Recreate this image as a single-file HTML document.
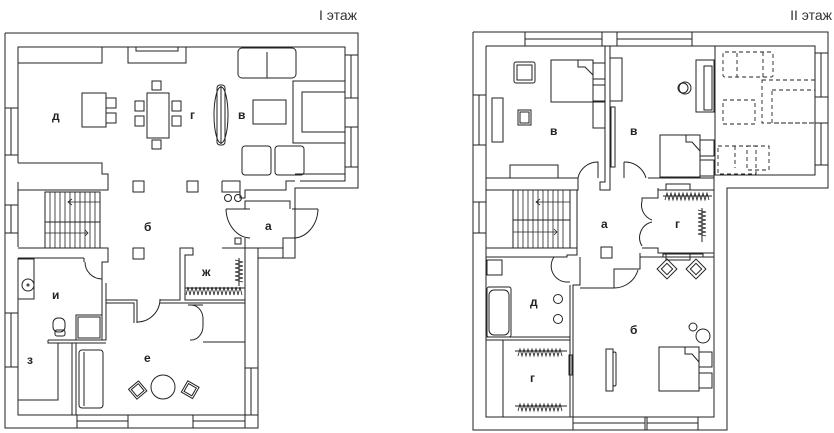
<!DOCTYPE html>
<html><head><meta charset="utf-8"><style>
html,body{margin:0;padding:0;background:#fff;}
svg{display:block;}
text{font-family:"Liberation Sans",sans-serif;}
.l{font-weight:bold;font-size:12px;fill:#222;font-family:"Liberation Sans Narrow","Liberation Sans",sans-serif;}
</style></head><body>
<svg width="834" height="433" viewBox="0 0 834 433" xmlns="http://www.w3.org/2000/svg">
<g fill="none" stroke="#222" stroke-width="1">
<!-- ================= FLOOR 1 ================= -->
<text x="357" y="20" text-anchor="end" font-size="14" fill="#333" stroke="none">I этаж</text>
<polyline points="5,33 358,33 358,188 295,188 295,258 258,258 258,428 5,428 5,33"/>
<polyline points="18,163 18,47 345,47 345,181 300,181"/>
<polyline points="18,182 18,247"/>
<polyline points="18,258 18,415 245,415 245,258"/>
<g><rect x="5" y="108" width="13" height="47"/><line x1="11" y1="108" x2="11" y2="155"/>
<rect x="5" y="205" width="13" height="28"/><line x1="11" y1="205" x2="11" y2="233"/>
<rect x="5" y="313" width="13" height="54"/><line x1="11" y1="313" x2="11" y2="367"/>
<rect x="345" y="55" width="13" height="43"/><line x1="351" y1="55" x2="351" y2="98"/>
<rect x="345" y="127" width="13" height="40"/><line x1="351" y1="127" x2="351" y2="167"/>
<rect x="77" y="415" width="51" height="13"/><line x1="77" y1="421" x2="128" y2="421"/>
<rect x="193" y="415" width="52" height="13"/><line x1="193" y1="421" x2="245" y2="421"/>
<rect x="245" y="368" width="13" height="47"/><line x1="251" y1="368" x2="251" y2="415"/></g>
<rect x="18" y="47" width="84" height="16"/>
<rect x="128" y="47" width="58" height="16"/><rect x="136" y="47" width="42" height="4"/>
<polyline points="18,163 102,163 102,174 108,174 108,190 18,190"/>
<polyline points="18,248 108,248 108,262 102,262 102,267"/>
<line x1="18" y1="258" x2="84" y2="258"/>
<rect x="45" y="192" width="55" height="30"/><rect x="45" y="222" width="55" height="26"/>
<g stroke-width="0.8">
<line x1="50" y1="192" x2="50" y2="222"/><line x1="55" y1="192" x2="55" y2="222"/><line x1="60" y1="192" x2="60" y2="222"/><line x1="65" y1="192" x2="65" y2="222"/><line x1="70" y1="192" x2="70" y2="222"/><line x1="75" y1="192" x2="75" y2="222"/><line x1="80" y1="192" x2="80" y2="222"/><line x1="85" y1="192" x2="85" y2="222"/><line x1="90" y1="192" x2="90" y2="222"/><line x1="95" y1="192" x2="95" y2="222"/>
<line x1="50" y1="222" x2="50" y2="248"/><line x1="55" y1="222" x2="55" y2="248"/><line x1="60" y1="222" x2="60" y2="248"/><line x1="65" y1="222" x2="65" y2="248"/><line x1="70" y1="222" x2="70" y2="248"/><line x1="75" y1="222" x2="75" y2="248"/><line x1="80" y1="222" x2="80" y2="248"/><line x1="85" y1="222" x2="85" y2="248"/><line x1="90" y1="222" x2="90" y2="248"/><line x1="95" y1="222" x2="95" y2="248"/>
<line x1="68" y1="202" x2="100" y2="202"/><polyline points="72,199 68,202 72,205"/>
<line x1="45" y1="233" x2="88" y2="233"/><polyline points="85,230 88,233 85,236"/>
</g>
<polyline points="84,258 84,262"/>
<polyline points="106,283 106,300"/>
<polyline points="102,267 102,340"/>
<path d="M85,262 A17,17 0 0 0 102,279"/>
<rect x="18" y="259" width="16" height="40"/>
<circle cx="28" cy="285" r="6"/><circle cx="28" cy="285" r="1"/>
<rect x="76" y="315" width="26" height="25"/><rect x="78" y="317" width="22" height="21"/>
<rect x="53" y="318" width="12" height="14" rx="5"/><rect x="55" y="330" width="10" height="6" rx="2"/>
<polyline points="48,340 106,340 106,300"/>
<polyline points="48,340 48,343 58,343 58,400 18,400"/>
<line x1="58" y1="343" x2="72" y2="343"/>
<rect x="72" y="343" width="4" height="72"/>
<line x1="76" y1="343" x2="106" y2="343"/>
<polyline points="106,300 137,300 137,323"/>
<polyline points="106,303 134,303 134,323"/>
<path d="M137,322 A23,23 0 0 0 160,299"/>
<polyline points="160,300 180,300 180,248 193,248 193,255 185,255 185,300 245,300"/>
<polyline points="160,303 245,303"/>
<polyline points="222,248 245,248 245,300"/>
<line x1="185" y1="288" x2="245" y2="288"/>
<path d="M186,295 l2,-8 l2,8 l2,-8 l2,8 l2,-8 l2,8 l2,-8 l2,8 l2,-8 l2,8 l2,-8 l2,8 l2,-8 l2,8 l2,-8 l2,8 l2,-8 l2,8 l2,-8 l2,8 l2,-8 l2,8 l2,-8 l2,8 l2,-8 l2,8 l2,-8 l2,8" stroke-width="0.8"/>
<path d="M235,260 l8,2 l-8,2 l8,2 l-8,2 l8,2 l-8,2 l8,2 l-8,2 l8,2 l-8,2 l8,2" stroke-width="0.8"/>
<line x1="239" y1="258" x2="239" y2="286"/>
<polyline points="203,342 245,342"/>
<line x1="188" y1="305" x2="203" y2="305"/>
<path d="M190,305 A12,14 0 0 1 203,318"/>
<path d="M190,340 A12,14 0 0 0 203,326"/>
<line x1="203" y1="318" x2="203" y2="326"/>
<rect x="79" y="350" width="24" height="58" rx="3"/><line x1="84" y1="352" x2="84" y2="406"/>
<circle cx="163" cy="387" r="12"/>
<rect x="131" y="384" width="13" height="13" transform="rotate(-40 137 390)"/><rect x="133" y="386" width="9" height="9" transform="rotate(-40 137 390)"/>
<rect x="184" y="383" width="13" height="13" transform="rotate(30 190 389)"/><rect x="186" y="385" width="9" height="9" transform="rotate(30 190 389)"/>
<rect x="133" y="181" width="11" height="11"/><rect x="187" y="181" width="11" height="11"/><rect x="133" y="248" width="11" height="11"/>
<rect x="82" y="93" width="24" height="34"/>
<rect x="106" y="98" width="10" height="10"/><rect x="106" y="113" width="10" height="10"/>
<rect x="147" y="93" width="22" height="45"/>
<rect x="152" y="81" width="9" height="9"/><rect x="152" y="140" width="9" height="9"/>
<rect x="135" y="101" width="9" height="10"/><rect x="135" y="116" width="9" height="10"/>
<rect x="172" y="101" width="9" height="10"/><rect x="172" y="116" width="9" height="10"/>
<ellipse cx="221" cy="115" rx="7" ry="28"/><rect x="217" y="85" width="8" height="60" rx="3"/><line x1="221" y1="86" x2="221" y2="144"/>
<rect x="238" y="48" width="58" height="30" rx="4"/><line x1="267" y1="52" x2="267" y2="78"/>
<rect x="253" y="100" width="33" height="24"/>
<rect x="293" y="81" width="52" height="62"/><rect x="302" y="92" width="43" height="40"/>
<rect x="242" y="146" width="29" height="29" rx="3"/><rect x="275" y="146" width="29" height="29" rx="3"/>
<polyline points="295,174 345,174"/>
<polyline points="222,181 240,181 240,198 245,198 245,190 286,190 286,181 295,181"/>
<polyline points="222,181 222,192 240,192"/>
<circle cx="228" cy="198" r="3.5"/><circle cx="238" cy="198" r="3.5"/>
<path d="M226,209 A25,30 0 0 0 250,238"/><line x1="226" y1="209" x2="250" y2="209"/>
<path d="M318,209 A25,30 0 0 1 292,238"/><line x1="292" y1="209" x2="318" y2="209"/>
<polyline points="245,209 245,201 290,201 290,209"/>
<polyline points="245,238 245,248 283,248 283,238 295,238"/>
<rect x="235" y="238" width="6" height="6"/>
<polyline points="258,248 258,258"/>
<polyline points="283,248 283,258 295,258"/>
<text class="l" x="52" y="120" stroke="none">д</text>
<text class="l" x="190" y="119" stroke="none">г</text>
<text class="l" x="238" y="119" stroke="none">в</text>
<text class="l" x="144" y="231" stroke="none">б</text>
<text class="l" x="265" y="230" stroke="none">а</text>
<text class="l" x="202" y="276" stroke="none">ж</text>
<text class="l" x="52" y="299" stroke="none">и</text>
<text class="l" x="27" y="364" stroke="none">з</text>
<text class="l" x="144" y="362" stroke="none">е</text>

<!-- ================= FLOOR 2 ================= -->
<text x="832" y="20" text-anchor="end" font-size="14" fill="#333" stroke="none">II этаж</text>
<polyline points="473,32 828,32 828,188 727,188 727,430 473,430 473,32"/>
<polyline points="486,46 815,46 815,175 714,175 714,417 486,417 486,46"/>
<g>
<rect x="525" y="32" width="77" height="14"/><line x1="525" y1="39" x2="602" y2="39"/>
<rect x="617" y="32" width="75" height="14"/><line x1="617" y1="39" x2="692" y2="39"/>
<rect x="473" y="95" width="13" height="50"/><line x1="479" y1="95" x2="479" y2="145"/>
<rect x="473" y="202" width="13" height="31"/><line x1="479" y1="202" x2="479" y2="233"/>
<rect x="815" y="53" width="13" height="44"/><line x1="821" y1="53" x2="821" y2="97"/>
<rect x="815" y="123" width="13" height="42"/><line x1="821" y1="123" x2="821" y2="165"/>
<rect x="573" y="417" width="72" height="13"/><line x1="573" y1="423" x2="645" y2="423"/>
<rect x="647" y="417" width="51" height="13"/><line x1="647" y1="423" x2="698" y2="423"/>
</g>
<polyline points="605,46 605,182 600,182 600,190 610,190 610,178 610,46"/>
<polyline points="486,178 578,178 578,190 486,190"/>
<path d="M578,178 A20,20 0 0 1 598,162 L598,178"/>
<path d="M624,162 A22,22 0 0 1 646,178"/>
<line x1="624" y1="162" x2="624" y2="178"/>
<polyline points="648,178 714,178"/>
<rect x="514" y="62" width="21" height="21" rx="2"/><rect x="517" y="65" width="15" height="15"/>
<rect x="551" y="60" width="42" height="42"/><polyline points="578,60 578,67 585,67 593,75 593,102"/>
<rect x="593" y="63" width="12" height="16"/><rect x="593" y="85" width="12" height="16"/>
<rect x="593" y="102" width="12" height="26"/>
<rect x="492" y="98" width="11" height="44"/>
<rect x="518" y="110" width="13" height="15"/><rect x="520" y="112" width="9" height="11"/>
<rect x="510" y="165" width="48" height="13"/>
<rect x="610" y="58" width="12" height="43"/>
<rect x="611" y="107" width="4" height="60"/>
<circle cx="685" cy="88" r="6"/><circle cx="683" cy="88" r="5"/>
<rect x="696" y="60" width="18" height="52"/><rect x="704" y="66" width="8" height="44"/>
<rect x="660" y="135" width="40" height="42"/><polyline points="686,135 686,142 692,142 700,151 700,177"/>
<rect x="700" y="140" width="14" height="16"/><rect x="700" y="160" width="14" height="16"/>
<rect x="715" y="46" width="100" height="129"/>
<g stroke-dasharray="4,3" stroke-width="0.9">
<rect x="723" y="52" width="50" height="25" rx="2"/><line x1="737" y1="53" x2="737" y2="77"/><line x1="763" y1="52" x2="763" y2="77"/>
<rect x="762" y="80" width="53" height="43"/><rect x="772" y="90" width="43" height="33"/>
<rect x="723" y="100" width="32" height="24"/>
<rect x="718" y="146" width="38" height="28"/><line x1="735" y1="146" x2="735" y2="168"/>
<rect x="747" y="146" width="22" height="24"/>
</g>
<polyline points="486,190 577,190 577,248 486,248"/>
<polyline points="486,248 577,248 577,255 567,255 567,257 486,257"/>
<rect x="513" y="190" width="57" height="30"/><rect x="513" y="220" width="57" height="28"/>
<g stroke-width="0.8">
<line x1="518" y1="190" x2="518" y2="248"/><line x1="523" y1="190" x2="523" y2="248"/><line x1="528" y1="190" x2="528" y2="248"/><line x1="533" y1="190" x2="533" y2="248"/><line x1="538" y1="190" x2="538" y2="248"/><line x1="543" y1="190" x2="543" y2="248"/><line x1="548" y1="190" x2="548" y2="248"/><line x1="553" y1="190" x2="553" y2="248"/><line x1="558" y1="190" x2="558" y2="248"/><line x1="563" y1="190" x2="563" y2="248"/>
<line x1="536" y1="202" x2="570" y2="202"/><polyline points="540,199 536,202 540,205"/>
<line x1="513" y1="232" x2="557" y2="232"/><polyline points="554,229 557,232 554,235"/>
</g>
<rect x="601" y="247" width="11" height="11"/>
<polyline points="658,188 658,198 642,198 642,202"/>
<polyline points="658,190 714,190"/>
<polyline points="642,248 658,248 658,253 714,253"/>
<path d="M642,201 A16,16 0 0 0 652,220"/><path d="M642,246 A16,16 0 0 1 652,222"/>
<polyline points="666,190 666,184 690,184 690,190"/>
<polyline points="666,253 666,260 690,260 690,253"/>
<path d="M665,200 l2,-7 l2,7 l2,-7 l2,7 l2,-7 l2,7 l2,-7 l2,7 l2,-7 l2,7 l2,-7 l2,7 l2,-7 l2,7 l2,-7 l2,7 l2,-7 l2,7 l2,-7 l2,7 l2,-7 l2,7" stroke-width="0.8"/>
<line x1="663" y1="196" x2="712" y2="196"/>
<path d="M698,210 l8,2 l-8,2 l8,2 l-8,2 l8,2 l-8,2 l8,2 l-8,2 l8,2 l-8,2 l8,2 l-8,2 l8,2" stroke-width="0.8"/>
<line x1="702" y1="208" x2="702" y2="242"/>
<polyline points="640,257 714,257"/><polyline points="640,253 640,257"/>
<rect x="663" y="254" width="40" height="3"/>
<rect x="660" y="262" width="14" height="14" transform="rotate(45 667 269)"/><rect x="663" y="265" width="8" height="8" transform="rotate(45 667 269)"/>
<rect x="689" y="262" width="14" height="14" transform="rotate(45 696 269)"/><rect x="692" y="265" width="8" height="8" transform="rotate(45 696 269)"/>
<polyline points="580,257 580,285 573,285 573,417"/>
<polyline points="570,285 570,417"/>
<polyline points="580,288 614,288"/>
<polyline points="614,288 614,269 640,269 640,257"/>
<path d="M614,288 A25,25 0 0 0 638,270"/>
<path d="M554,257 A16,16 0 0 0 566,282"/>
<polyline points="566,282 570,282"/>
<rect x="487" y="260" width="15" height="15"/>
<rect x="487" y="287" width="24" height="50" rx="2"/><rect x="489" y="290" width="20" height="45" rx="5"/>
<circle cx="558" cy="299" r="4.5"/><circle cx="558" cy="319" r="4.5"/>
<line x1="486" y1="337" x2="570" y2="337"/><line x1="486" y1="340" x2="570" y2="340"/>
<line x1="503" y1="340" x2="503" y2="417"/>
<rect x="569" y="355" width="3" height="20"/>
<line x1="515" y1="351" x2="567" y2="351"/>
<path d="M518,356 l2,-7 l2,7 l2,-7 l2,7 l2,-7 l2,7 l2,-7 l2,7 l2,-7 l2,7 l2,-7 l2,7 l2,-7 l2,7 l2,-7 l2,7 l2,-7 l2,7 l2,-7 l2,7 l2,-7 l2,7" stroke-width="0.8"/>
<line x1="515" y1="406" x2="567" y2="406"/>
<path d="M518,411 l2,-7 l2,7 l2,-7 l2,7 l2,-7 l2,7 l2,-7 l2,7 l2,-7 l2,7 l2,-7 l2,7 l2,-7 l2,7 l2,-7 l2,7 l2,-7 l2,7 l2,-7 l2,7 l2,-7 l2,7" stroke-width="0.8"/>
<rect x="606" y="349" width="7" height="42"/><rect x="613" y="352" width="3" height="34" rx="1.5"/>
<circle cx="693" cy="327" r="4"/><circle cx="703" cy="336" r="7"/>
<rect x="659" y="347" width="40" height="44"/><polyline points="685,347 685,354 692,354 699,362 699,391"/>
<rect x="699" y="352" width="13" height="15"/><rect x="699" y="373" width="13" height="15"/>
<text class="l" x="550" y="135" stroke="none">в</text>
<text class="l" x="630" y="135" stroke="none">в</text>
<text class="l" x="601" y="228" stroke="none">а</text>
<text class="l" x="675" y="228" stroke="none">г</text>
<text class="l" x="530" y="306" stroke="none">д</text>
<text class="l" x="630" y="334" stroke="none">б</text>
<text class="l" x="530" y="382" stroke="none">г</text>
</g>
</svg>
</body></html>
